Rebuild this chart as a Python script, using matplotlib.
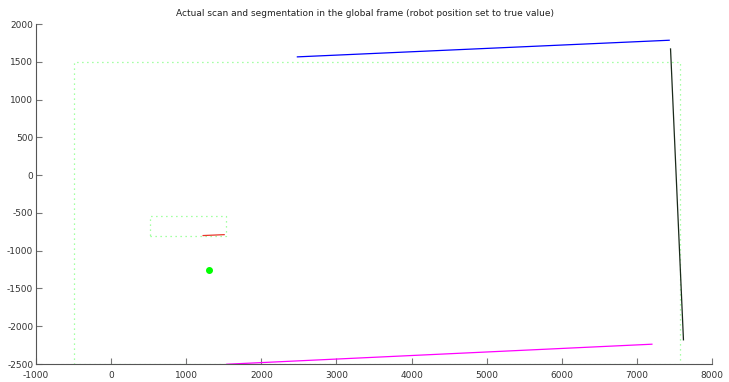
import matplotlib
matplotlib.use("Agg")
import matplotlib.pyplot as plt

# Environment boundary (dotted green rectangle)
env_x = [-500, 7570, 7570, -500, -500]
env_y = [-2500, -2500, 1500, 1500, -2500]

# Small obstacle box (dotted green)
box_x = [520, 1530, 1530, 520, 520]
box_y = [-800, -800, -545, -545, -800]

# Robot position
robot_x = [1300]
robot_y = [-1260]

# Segmented lines from the scan
seg_blue_x = [2480, 7430]
seg_blue_y = [1565, 1785]
seg_black_x = [7448, 7620]
seg_black_y = [1670, -2180]
seg_magenta_x = [1540, 7200]
seg_magenta_y = [-2503, -2238]
seg_red_x = [1225, 1505]
seg_red_y = [-800, -788]

title = "Actual scan and segmentation in the global frame (robot position set to true value)"
xticks = [-1000, 0, 1000, 2000, 3000, 4000, 5000, 6000, 7000, 8000]
yticks = [-2500, -2000, -1500, -1000, -500, 0, 500, 1000, 1500, 2000]

fig = plt.figure(figsize=(7.29, 3.82), dpi=100)
ax = fig.add_axes([36 / 729, 18 / 382, 676 / 729, 340 / 382])

ax.plot(env_x, env_y, linestyle=(0, (1, 3)), color="#88ff88", lw=0.9)
ax.plot(box_x, box_y, linestyle=(0, (1, 3)), color="#88ff88", lw=0.9)
ax.plot(seg_blue_x, seg_blue_y, color="#0000ff", lw=0.9)
ax.plot(seg_black_x, seg_black_y, color="#1a2a1a", lw=0.9)
ax.plot(seg_magenta_x, seg_magenta_y, color="#ff00ff", lw=0.9)
ax.plot(seg_red_x, seg_red_y, color="#e8382c", lw=0.9)
ax.plot(robot_x, robot_y, "o", color="#00ff00", ms=4, mec="#00ff00")

ax.set_xlim(-1000, 8000)
ax.set_ylim(-2500, 2000)
ax.set_xticks(xticks)
ax.set_yticks(yticks)
ax.set_xticklabels([str(v) for v in xticks])
ax.set_yticklabels([str(v) for v in yticks])

for side in ("top", "right"):
    ax.spines[side].set_visible(False)
for side in ("left", "bottom"):
    ax.spines[side].set_color("#555555")
    ax.spines[side].set_linewidth(0.8)
ax.tick_params(direction="in", length=4, width=0.8, color="#777777",
               labelsize=6.5, labelcolor="#333333")
ax.tick_params(axis="x", pad=5)
ax.tick_params(axis="y", pad=2)

fig.text(0.5, 1 - 13 / 382, title, ha="center", va="center",
         fontsize=6.5, color="#222222")

fig.savefig("out.png", dpi=100)
